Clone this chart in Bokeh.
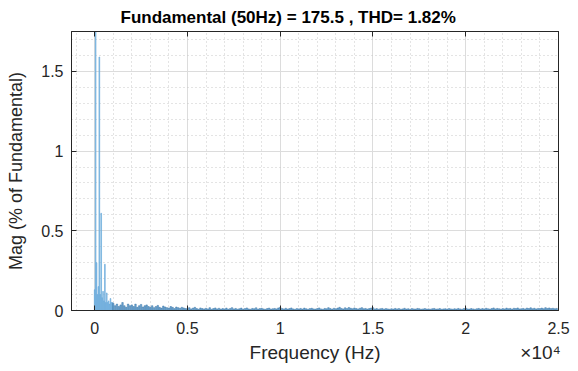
from bokeh.plotting import figure
from bokeh.models import Range1d, FixedTicker, LinearAxis
from bokeh.embed import file_html
from bokeh.resources import INLINE

# Harmonic region 0..950 Hz, 50 Hz steps (% of fundamental)
low_freq = [0, 50, 100, 150, 200, 250, 300, 350, 400, 450,
            500, 550, 600, 650, 700, 750, 800, 850, 900, 950]
low_mag = [0.13, 100.0, 0.30, 0.10, 0.15, 1.59, 0.10, 0.61, 0.08, 0.12,
           0.06, 0.29, 0.05, 0.11, 0.05, 0.06, 0.04, 0.075, 0.05, 0.05]

# Noise floor 1000..24900 Hz, 100 Hz steps
noise_start = 1000
noise_step = 100
noise_mag = [
    0.045, 0.03, 0.04, 0.025, 0.035, 0.05, 0.03, 0.02, 0.04, 0.03,
    0.035, 0.025, 0.04, 0.02, 0.03, 0.038, 0.022, 0.03, 0.035, 0.025,
    0.02, 0.03, 0.018, 0.025, 0.032, 0.02, 0.015, 0.028, 0.022, 0.018,
    0.015, 0.025, 0.02, 0.012, 0.022, 0.018, 0.014, 0.02, 0.016, 0.012,
    0.012, 0.018, 0.01, 0.015, 0.02, 0.012, 0.008, 0.016, 0.012, 0.01,
    0.014, 0.01, 0.018, 0.008, 0.012, 0.016, 0.01, 0.014, 0.009, 0.012,
    0.01, 0.015, 0.008, 0.012, 0.018, 0.01, 0.013, 0.008, 0.011, 0.015,
    0.009, 0.012, 0.016, 0.01, 0.008, 0.013, 0.011, 0.017, 0.009, 0.012,
    0.014, 0.01, 0.008, 0.012, 0.015, 0.009, 0.011, 0.013, 0.01, 0.016,
    0.02, 0.012, 0.01, 0.014, 0.009, 0.012, 0.016, 0.01, 0.008, 0.012,
    0.01, 0.013, 0.009, 0.015, 0.011, 0.008, 0.012, 0.014, 0.01, 0.009,
    0.012, 0.016, 0.01, 0.008, 0.013, 0.011, 0.018, 0.012, 0.009, 0.014,
    0.011, 0.015, 0.02, 0.013, 0.01, 0.017, 0.012, 0.019, 0.014, 0.011,
    0.016, 0.012, 0.01, 0.014, 0.018, 0.011, 0.013, 0.009, 0.012, 0.015,
    0.018, 0.01, 0.012, 0.008, 0.011, 0.013, 0.009, 0.012, 0.01, 0.008,
    0.011, 0.009, 0.013, 0.01, 0.012, 0.008, 0.01, 0.014, 0.009, 0.011,
    0.008, 0.012, 0.01, 0.009, 0.013, 0.011, 0.008, 0.01, 0.012, 0.009,
    0.01, 0.008, 0.011, 0.013, 0.009, 0.01, 0.012, 0.008, 0.01, 0.011,
    0.009, 0.012, 0.01, 0.008, 0.011, 0.009, 0.013, 0.01, 0.008, 0.012,
    0.015, 0.01, 0.009, 0.012, 0.01, 0.008, 0.011, 0.013, 0.009, 0.012,
    0.01, 0.014, 0.011, 0.009, 0.012, 0.016, 0.01, 0.013, 0.011, 0.009,
    0.012, 0.01, 0.015, 0.011, 0.013, 0.009, 0.014, 0.012, 0.016, 0.01,
    0.011, 0.013, 0.01, 0.015, 0.012, 0.017, 0.011, 0.014, 0.01, 0.013,
    0.012, 0.015, 0.011, 0.018, 0.013, 0.016, 0.012, 0.014, 0.011, 0.013,
]
noise_freq = [noise_start + noise_step * i for i in range(len(noise_mag))]

x_tick_vals = [0, 5000, 10000, 15000, 20000, 25000]
x_tick_labels = ["0", "0.5", "1", "1.5", "2", "2.5"]
y_tick_vals = [0, 0.5, 1, 1.5]
y_tick_labels = ["0", "0.5", "1", "1.5"]

title_text = "Fundamental (50Hz) = 175.5 , THD= 1.82%"
x_label = "Frequency (Hz)"
y_label = "Mag (% of Fundamental)"
exp_text = "\u00d710\u2074"

X_MIN, X_MAX = -1250, 25000
FONT = "Liberation Sans"
AX = "#262626"

p = figure(width=578, height=371, output_backend="svg", toolbar_location=None,
           x_range=Range1d(X_MIN, X_MAX), y_range=Range1d(0, 1.75))
p.min_border_left = 71
p.min_border_right = 20
p.min_border_top = 31
p.min_border_bottom = 61
p.background_fill_color = "white"
p.border_fill_color = "white"
p.outline_line_color = AX
p.outline_line_width = 1

p.vbar(x=low_freq, top=low_mag, width=40, bottom=0,
       fill_color="#8CC3EA", line_color="#64A6D8", line_width=0.6)
p.vbar(x=noise_freq, top=noise_mag, width=80, bottom=0,
       fill_color="#6AA6D3", line_color="#3F77A6", line_width=0.5)

xminor = [v for v in range(-1000, 25000, 1000) if v % 5000 != 0]
yminor = [round(0.1 * i, 2) for i in range(1, 18) if i % 5 != 0]
xt = FixedTicker(ticks=x_tick_vals, minor_ticks=xminor)
yt = FixedTicker(ticks=y_tick_vals, minor_ticks=yminor)

p.xaxis.ticker = xt
p.yaxis.ticker = yt
p.xaxis.major_label_overrides = dict(zip(x_tick_vals, x_tick_labels))
p.yaxis.major_label_overrides = dict(zip(y_tick_vals, y_tick_labels))

for ax in (p.xaxis[0], p.yaxis[0]):
    ax.major_tick_in = 5
    ax.major_tick_out = 0
    ax.minor_tick_in = 0
    ax.minor_tick_out = 0
    ax.axis_line_color = AX
    ax.major_tick_line_color = AX
    ax.major_label_text_font = FONT
    ax.major_label_text_font_size = "16px"
    ax.major_label_text_color = AX
    ax.axis_label_text_font = FONT
    ax.axis_label_text_font_size = "18px"
    ax.axis_label_text_font_style = "normal"
    ax.axis_label_text_color = AX

p.yaxis.axis_label = y_label
p.xaxis.major_label_standoff = 11
p.yaxis.major_label_standoff = 8
p.yaxis.axis_label_standoff = 12

# second row below the x axis: axis title (centred) and the x10^4 multiplier
label_mid = (X_MIN + X_MAX) / 2
label_exp = 24030
xl = LinearAxis(ticker=FixedTicker(ticks=[label_mid, label_exp], minor_ticks=[]),
                major_label_overrides={label_mid: x_label, label_exp: exp_text},
                axis_line_color=None, major_tick_line_color=None,
                minor_tick_line_color=None, major_tick_in=0, major_tick_out=0,
                major_label_standoff=5, major_label_text_font=FONT,
                major_label_text_font_size="19px", major_label_text_color=AX)
p.add_layout(xl, "below")

# top and right box axes with inward ticks (no labels)
top = LinearAxis(ticker=xt, major_tick_in=5, major_tick_out=0, minor_tick_in=0,
                 minor_tick_out=0, axis_line_color=AX, major_tick_line_color=AX,
                 major_label_overrides={v: "" for v in x_tick_vals})
right = LinearAxis(ticker=yt, major_tick_in=5, major_tick_out=0, minor_tick_in=0,
                   minor_tick_out=0, axis_line_color=AX, major_tick_line_color=AX,
                   major_label_overrides={v: "" for v in y_tick_vals})
p.add_layout(top, "above")
p.add_layout(right, "right")

for g, t in ((p.xgrid[0], xt), (p.ygrid[0], yt)):
    g.ticker = t
    g.grid_line_color = "#DCDCDC"
    g.grid_line_width = 1
    g.minor_grid_line_color = "#C8C8C8"
    g.minor_grid_line_dash = "1 3"
    g.minor_grid_line_width = 1

p.title.text = title_text
p.title.text_font = FONT
p.title.text_font_size = "17px"
p.title.text_font_style = "bold"
p.title.text_color = "#000000"
p.title.align = "left"
p.title.offset = 49

open("out.html", "w").write(file_html(p, INLINE))
